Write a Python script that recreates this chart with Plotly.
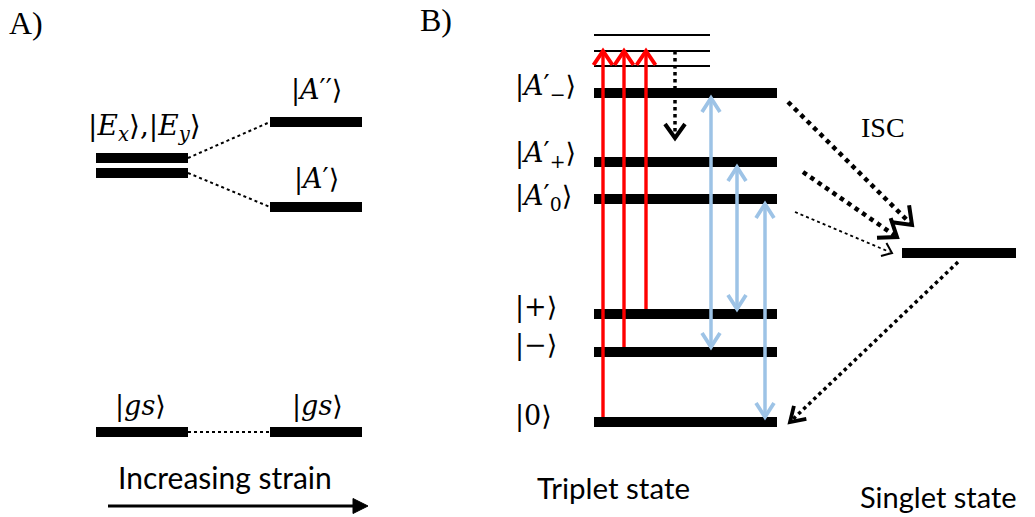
import math
import plotly.graph_objects as go

# ---------------- data ----------------
# Panel A: energy levels (diagram energy units, larger = higher)
a_before_names = ["Ex", "Ey", "gs"]
a_before_energy = [359, 344, 85]
a_after_names = ["A''", "A'", "gs"]
a_after_energy = [395, 310, 85]
a_connect = [("Ex", "A''"), ("Ey", "A'"), ("gs", "gs")]
a_labels = ["|<i>E</i><sub><i>x</i></sub>⟩,|<i>E</i><sub><i>y</i></sub>⟩",
            "|<i>A</i>′′⟩", "|<i>A</i>′⟩", "|<i>gs</i>⟩", "|<i>gs</i>⟩"]

# Panel B: triplet / singlet levels
b_vib_energy = [482, 466, 451]
b_trip_names = ["A'-", "A'+", "A'0", "+", "-", "0"]
b_trip_energy = [424, 355, 318, 203, 165, 95]
b_trip_labels = ["|<i>A</i>′<sub>−</sub>⟩", "|<i>A</i>′<sub>+</sub>⟩", "|<i>A</i>′<sub>0</sub>⟩",
                 "|+⟩", "|−⟩", "|0⟩"]
b_sing_energy = 264
pump_from = ["0", "-", "+"]                                  # red optical pumping
mw_pairs = [("A'-", "-"), ("A'+", "+"), ("A'0", "0")]       # blue transitions
relax_to_energy = 379                                        # black dotted relaxation
isc_from = ["A'-", "A'+", "A'0"]                             # ISC into singlet

# ---------------- layout geometry ----------------
W, H = 1035, 517
BAR_W = 10
HALF = BAR_W / 2
A_LEFT_X = (96, 188)
A_RIGHT_X = (270, 362)
B_TRIP_X = (594, 777)
B_VIB_X = (594, 710)
B_SING_X = (902, 1016)
PUMP_X = [603, 624, 646]
MW_X = [711, 737, 765]
RELAX_X = 675
ISC_TAIL = [(788, -9), (803, -10), (795, -13)]
ISC_TIP = [(912, 28), (897, 16), (892, 0)]
ISC_W = [4.5, 4.5, 1.8]
ISC_HEAD = [(16, 12, 4), (16, 12, 4), (9, 7, 2)]

RED = "#FF0000"
BLUE = "#9DC3E6"
BLACK = "#000000"
SERIF = "DejaVu Serif, Liberation Serif, serif"
TSERIF = "Liberation Serif, DejaVu Serif, serif"
SANS = "Lato, Open Sans, sans-serif"
KET = 27

fig = go.Figure()
annotations = []


def seg(xs, ys, color, width, dash="solid", fill=None):
    fig.add_trace(go.Scatter(x=xs, y=ys, mode="lines",
                             line=dict(color=color, width=width, dash=dash),
                             fill=fill, fillcolor=color if fill else None,
                             hoverinfo="skip", showlegend=False))


def level(x0, x1, e, width=BAR_W, color=BLACK):
    seg([x0, x1], [e, e], color, width)


def head(xt, yt, ux, uy, spec, color, filled=False):
    L, hw, hwid = spec
    nx, ny = -uy, ux
    bx, by = xt - ux * L, yt - uy * L
    xs = [bx + nx * hw, xt, bx - nx * hw]
    ys = [by + ny * hw, yt, by - ny * hw]
    if filled:
        seg(xs + [xs[0]], ys + [ys[0]], color, 1, fill="toself")
    else:
        seg(xs, ys, color, hwid)


def arrow(x0, y0, x1, y1, color, width, spec, dash="solid", both=False, filled=False):
    d = math.hypot(x1 - x0, y1 - y0)
    ux, uy = (x1 - x0) / d, (y1 - y0) / d
    trim = 3 if dash != "solid" else (spec[0] * 0.8 if filled else 1)
    sx, sy = (x0 + ux * 1, y0 + uy * 1) if both else (x0, y0)
    seg([sx, x1 - ux * trim], [sy, y1 - uy * trim], color, width, dash)
    head(x1, y1, ux, uy, spec, color, filled)
    if both:
        head(x0, y0, -ux, -uy, spec, color, filled)


def text(x, y, s, size, family, xanchor="center", color=BLACK):
    annotations.append(dict(x=x, y=y, xref="x", yref="y", text=s, showarrow=False,
                            xanchor=xanchor, yanchor="middle",
                            font=dict(size=size, family=family, color=color)))


# ---------------- Panel A ----------------
ea = dict(zip(a_before_names, a_before_energy))
eb = dict(zip(a_after_names, a_after_energy))
for e in a_before_energy:
    level(*A_LEFT_X, e)
for e in a_after_energy:
    level(*A_RIGHT_X, e)
for l, r in a_connect:
    seg([A_LEFT_X[1], A_RIGHT_X[0]], [ea[l], eb[r]], BLACK, 2, "dot")

text(26, 494, "A)", 32, TSERIF)
text(144, ea["Ex"] + 31, a_labels[0], 28, SERIF)
text(316, eb["A''"] + 32, a_labels[1], KET, SERIF)
text(316, eb["A'"] + 28, a_labels[2], KET, SERIF)
text(140, ea["gs"] + 26, a_labels[3], KET, SERIF)
text(317, eb["gs"] + 26, a_labels[4], KET, SERIF)
text(225, 40, "Increasing strain", 30, SANS)
arrow(108, 11, 368, 11, BLACK, 3, (15, 7.5, 1), filled=True)

# ---------------- Panel B ----------------
et = dict(zip(b_trip_names, b_trip_energy))
text(436, 497, "B)", 32, TSERIF)
for e in b_vib_energy:
    level(*B_VIB_X, e, width=2)
for e in b_trip_energy:
    level(*B_TRIP_X, e)
level(*B_SING_X, b_sing_energy)

for name, lab, dy in zip(b_trip_names, b_trip_labels, [6, 8, 2, 7, 7, 6]):
    text(513, et[name] + dy, lab, KET, SERIF, xanchor="left")

# red pumping arrows
for x, src in zip(PUMP_X, pump_from):
    arrow(x, et[src] + HALF, x, b_vib_energy[1], RED, 3.4, (14, 9.5, 4))

# relaxation (dotted)
arrow(RELAX_X, b_vib_energy[1], RELAX_X, relax_to_energy, BLACK, 3.5, (14, 10, 4), dash="dot")

# blue double arrows
for x, (up, lo) in zip(MW_X, mw_pairs):
    arrow(x, et[lo] + HALF, x, et[up] - HALF, BLUE, 3.5, (14, 9, 3.8), both=True)

# ISC arrows
for src, (tx, tdy), (hx, hdy), w, hd in zip(isc_from, ISC_TAIL, ISC_TIP, ISC_W, ISC_HEAD):
    arrow(tx, et[src] + tdy, hx, b_sing_energy + hdy, BLACK, w, hd, dash="dot")
# singlet back to |0>
arrow(958, b_sing_energy - 9, 790, et["0"], BLACK, 3.5, (14, 9, 3.8), dash="dot")

text(883, 390, "ISC", 28, TSERIF)
text(613, 30, "Triplet state", 29.5, SANS)
text(938, 21, "Singlet state", 29, SANS)

fig.update_layout(
    width=W, height=H, autosize=False,
    margin=dict(l=0, r=0, t=0, b=0, pad=0),
    paper_bgcolor="white", plot_bgcolor="white",
    xaxis=dict(range=[0, W], visible=False, fixedrange=True),
    yaxis=dict(range=[0, H], visible=False, fixedrange=True),
    annotations=annotations,
    showlegend=False,
)
fig.write_html("out.html", config=dict(displayModeBar=False))
